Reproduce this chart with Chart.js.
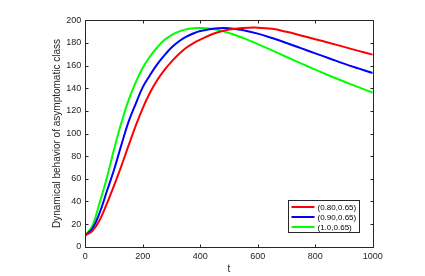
<!DOCTYPE html>
<html>
<head>
<meta charset="utf-8">
<script src="https://cdn.jsdelivr.net/npm/chart.js@4/dist/chart.umd.min.js"></script>
<style>
html,body{margin:0;padding:0;background:#fff;}
#wrap{width:425px;height:276px;}
</style>
</head>
<body>
<div id="wrap"><canvas id="c" width="425" height="276"></canvas></div>
<script>
const tValues = [0,25,50,75,100,125,150,175,200,225,250,275,300,325,350,375,400,450,500,550,600,650,700,750,800,850,900,950,1000];
const series080 = [10,14,23.5,38,54,71,89,106.5,122.5,136,147,156,163.5,170,175.5,179.7,183,188.5,191.8,193.2,193.5,192.5,189.8,186.6,183.3,180,176.5,173,169.7];
const series090 = [10,16,30,49,68,89.5,110,126,141,151.5,161,169,176,181.3,185.3,188.3,190.5,192.8,193,191.2,188.2,184.3,180,175.4,170.8,166.3,161.7,157.5,153.5];
const series100 = [10,18.5,39,61,86,109,129,145,158,168,176,182.5,187,190,192,193,193.2,192,188.8,184.3,179,173.4,167.6,162,156.4,151,145.9,141,136];
const seriesLabels = ['(0.80,0.65)','(0.90,0.65)','(1.0,0.65)'];
const seriesColors = ['#ff0000','#0000ff','#00ff00'];
const xTicks = [0,200,400,600,800,1000];
const yTicks = [0,20,40,60,80,100,120,140,160,180,200];

const allSeries = [series080, series090, series100];
const TXT = '#262626';
const FONT = 'Liberation Sans, Arial, sans-serif';

const boxPlugin = {
  id: 'boxTicks',
  afterDatasetsDraw(chart) {
    const ctx = chart.ctx, a = chart.chartArea;
    const xs = chart.scales.x, ys = chart.scales.y;
    ctx.save();
    ctx.strokeStyle = TXT;
    ctx.lineWidth = 1;
    ctx.beginPath();
    const L = Math.round(a.left)+0.5, R = Math.round(a.right)+0.5, T = Math.round(a.top)+0.5, B = Math.round(a.bottom)+0.5;
    ctx.rect(L, T, R-L, B-T);
    const tl = 3;
    xTicks.forEach(v => {
      const px = Math.round(xs.getPixelForValue(v))+0.5;
      ctx.moveTo(px, B); ctx.lineTo(px, B-tl);
      ctx.moveTo(px, T); ctx.lineTo(px, T+tl);
    });
    yTicks.forEach(v => {
      const py = Math.round(ys.getPixelForValue(v))+0.5;
      ctx.moveTo(L, py); ctx.lineTo(L+tl, py);
      ctx.moveTo(R, py); ctx.lineTo(R-tl, py);
    });
    ctx.stroke();
    // legend
    const w = 71, h = 32;
    const bx = Math.round(a.right - 14 - w)+0.5, by = Math.round(a.bottom - 14.7 - h)+0.5;
    ctx.fillStyle = '#fff';
    ctx.fillRect(bx, by, w, h);
    ctx.strokeStyle = TXT;
    ctx.strokeRect(bx, by, w, h);
    ctx.font = '8px ' + FONT;
    ctx.textBaseline = 'middle';
    ctx.textAlign = 'left';
    chart.data.datasets.forEach((ds, i) => {
      const yy = by + 6.5 + i * 10;
      ctx.strokeStyle = ds.borderColor;
      ctx.lineWidth = 2;
      ctx.beginPath();
      ctx.moveTo(bx + 3, yy); ctx.lineTo(bx + 26, yy);
      ctx.stroke();
      ctx.fillStyle = '#000';
      ctx.fillText(ds.label, bx + 29, yy + 0.5);
    });
    ctx.restore();
  }
};

new Chart(document.getElementById('c'), {
  type: 'line',
  data: {
    datasets: allSeries.map((s, i) => ({
      label: seriesLabels[i],
      data: tValues.map((t, j) => ({x: t, y: s[j]})),
      borderColor: seriesColors[i],
      backgroundColor: seriesColors[i],
      borderWidth: 2,
      pointRadius: 0,
      fill: false,
      tension: 0.4
    }))
  },
  options: {
    responsive: false,
    animation: false,
    devicePixelRatio: 1,
    layout: { padding: { left: 0, right: 52.3, top: 20.3, bottom: 0 } },
    plugins: { legend: { display: false }, tooltip: { enabled: false } },
    scales: {
      x: {
        type: 'linear', min: 0, max: 1000,
        afterBuildTicks: s => { s.ticks = xTicks.map(v => ({value: v})); },
        afterFit: s => { s.height = 29.3; },
        grid: { display: false, drawTicks: false },
        border: { display: false },
        ticks: { color: TXT, font: { family: FONT, size: 9 }, padding: 4, maxRotation: 0, callback: v => String(v) },
        title: { display: true, text: 't', color: TXT, font: { family: FONT, size: 10 }, padding: { top: 0, bottom: 0.4 } }
      },
      y: {
        type: 'linear', min: 0, max: 200,
        afterBuildTicks: s => { s.ticks = yTicks.map(v => ({value: v})); },
        afterFit: s => { s.width = 85.3; },
        grid: { display: false, drawTicks: false },
        border: { display: false },
        ticks: { color: TXT, font: { family: FONT, size: 9 }, padding: 4, callback: v => String(v) },
        title: { display: true, text: 'Dynamical behavior of asymptomatic class', color: TXT, font: { family: FONT, size: 10 }, padding: { top: 51.4, bottom: 0 } }
      }
    }
  },
  plugins: [boxPlugin]
});
</script>
</body>
</html>
